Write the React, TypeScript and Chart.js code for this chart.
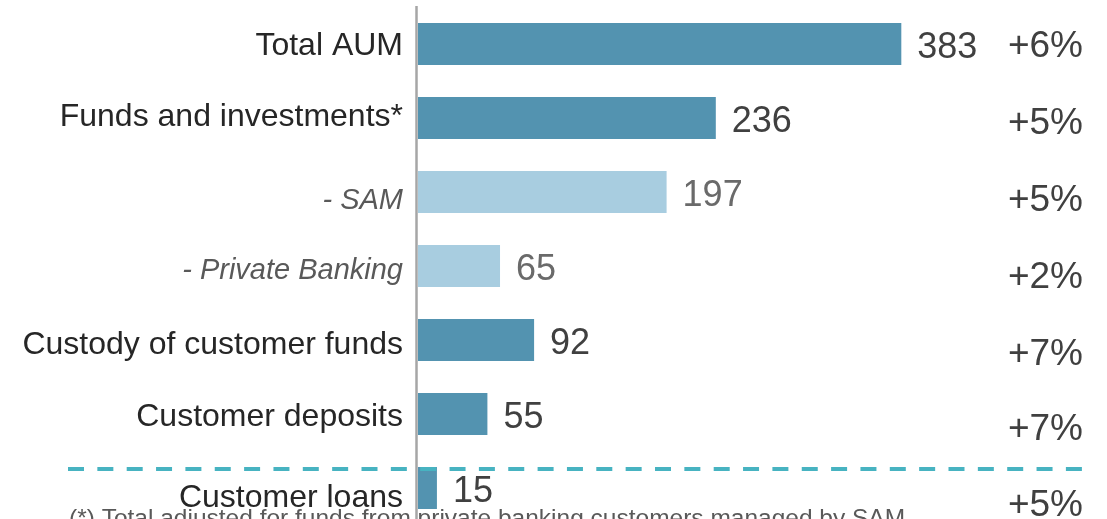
import React, { useEffect, useRef } from "react";
import { Chart, registerables } from "chart.js";

Chart.register(...registerables);

// Assets under management breakdown (EUR bn) and year-on-year change
const categories = [
  "Total AUM",
  "Funds and investments*",
  "- SAM",
  "- Private Banking",
  "Custody of customer funds",
  "Customer deposits",
  "Customer loans",
];
const values = [383, 236, 197, 65, 92, 55, 15];
const changes = ["+6%", "+5%", "+5%", "+2%", "+7%", "+7%", "+5%"];
const subItem = [false, false, true, true, false, false, false];
const footnote = "(*) Total adjusted for funds from private banking customers managed by SAM";

const DARK = "#5393b0";
const LIGHT = "#a8cde0";
const FONT = "'Liberation Sans', Arial, sans-serif";

// small vertical nudges for the text columns (px)
const labelNudge = [0, -3.5, 7, 3, 2.5, 0.5, 7.5];
const changeNudge = [0, 2.5, 5.5, 8.5, 11.3, 13, 14.5];

const overlay = {
  id: "overlay",
  beforeDatasetsDraw(chart: any) {
    const { ctx } = chart;
    ctx.save();
    ctx.font = `24.5px ${FONT}`;
    ctx.fillStyle = "#595959";
    ctx.textAlign = "left";
    ctx.textBaseline = "alphabetic";
    ctx.fillText(footnote, 69, 526);
    ctx.restore();
  },
  afterDatasetsDraw(chart: any) {
    const { ctx, chartArea } = chart;
    const bars = chart.getDatasetMeta(0).data;
    ctx.save();

    bars.forEach((bar: any, i: number) => {
      const cy = bar.y;
      // category label
      ctx.textAlign = "right";
      ctx.textBaseline = "alphabetic";
      if (subItem[i]) {
        ctx.font = `italic 29px ${FONT}`;
        ctx.fillStyle = "#595959";
        ctx.fillText(categories[i], 403, cy + labelNudge[i] + 10.4);
      } else {
        ctx.font = `32px ${FONT}`;
        ctx.fillStyle = "#262626";
        ctx.fillText(categories[i], 403, cy + labelNudge[i] + 11.4);
      }
      // value label
      ctx.textAlign = "left";
      ctx.font = `36px ${FONT}`;
      ctx.fillStyle = subItem[i] ? "#6a6a6a" : "#404040";
      ctx.fillText(String(values[i]), bar.x + 16, cy + 1.5 + 12.9);
      // change label
      ctx.textAlign = "right";
      ctx.font = `37px ${FONT}`;
      ctx.fillStyle = "#404040";
      ctx.fillText(changes[i], 1083, cy + changeNudge[i] + 13.2);
    });

    // separator above loans
    const last = bars[bars.length - 1];
    const sepY = last.y - last.height / 2 + 2;
    ctx.beginPath();
    ctx.setLineDash([16, 13.35]);
    ctx.lineWidth = 4;
    ctx.strokeStyle = "#47b3c1";
    ctx.moveTo(68, sepY);
    ctx.lineTo(1083, sepY);
    ctx.stroke();

    // value axis baseline
    ctx.setLineDash([]);
    ctx.beginPath();
    ctx.lineWidth = 2.5;
    ctx.strokeStyle = "#a6a6a6";
    ctx.moveTo(chartArea.left - 1.5, 6);
    ctx.lineTo(chartArea.left - 1.5, chart.height);
    ctx.stroke();

    ctx.restore();
  },
};

export default function App() {
  const ref = useRef<HTMLCanvasElement>(null);

  useEffect(() => {
    if (!ref.current) return;
    const chart = new Chart(ref.current, {
      type: "bar",
      data: {
        labels: categories,
        datasets: [
          {
            data: values,
            backgroundColor: subItem.map((s) => (s ? LIGHT : DARK)),
            borderWidth: 0,
            categoryPercentage: 1,
            barPercentage: 42 / 74,
          },
        ],
      },
      options: {
        indexAxis: "y",
        responsive: false,
        animation: false,
        layout: { padding: { left: 418, right: 0, top: 7, bottom: 5 } },
        scales: {
          x: { display: false, min: 0, max: 546, grid: { display: false } },
          y: { display: false, grid: { display: false } },
        },
        plugins: {
          legend: { display: false },
          tooltip: { enabled: false },
        },
      },
      plugins: [overlay],
    });
    return () => chart.destroy();
  }, []);

  return (
    <div style={{ position: "fixed", left: 0, top: 0, width: 1107, height: 530, background: "#fff" }}>
      <canvas ref={ref} width={1107} height={530} />
    </div>
  );
}
